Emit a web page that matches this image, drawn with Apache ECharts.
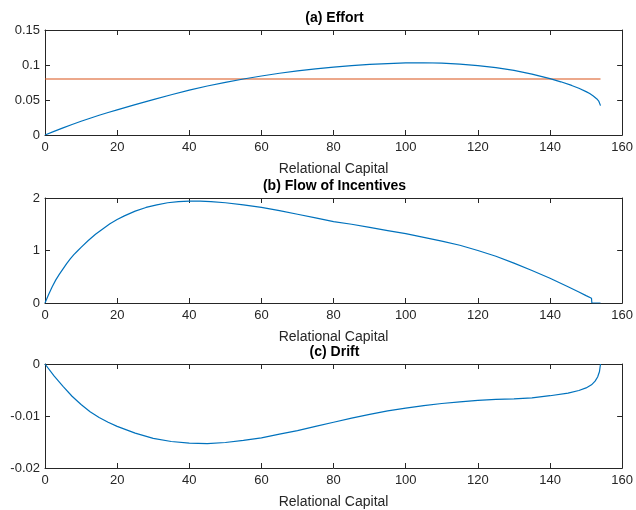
<!DOCTYPE html>
<html>
<head>
<meta charset="utf-8">
<script src="https://cdn.jsdelivr.net/npm/echarts@6/dist/echarts.min.js"></script>
<style>
html,body{margin:0;padding:0;background:#fff;}
#chart{width:636px;height:510px;}
</style>
</head>
<body>
<div id="chart"></div>
<script>
// ---- Data ----
var titles = ['(a) Effort', '(b) Flow of Incentives', '(c) Drift'];
var xName = 'Relational Capital';

var effortX = [0,2.5,5,7.5,10,12.5,15,17.5,20,25,30,35,40,45,50,55,60,65,70,75,80,85,90,95,100,105,110,115,120,125,130,135,140,143,146,148,150,151,152,153,153.5,154];
var effortY = [0,0.0052,0.0102,0.0150,0.0196,0.0240,0.0282,0.0322,0.0360,0.0435,0.0505,0.0575,0.0640,0.0700,0.0752,0.0800,0.0843,0.0882,0.0915,0.0945,0.0970,0.0990,0.1008,0.1020,0.1030,0.1032,0.1027,0.1013,0.0992,0.0962,0.0922,0.0870,0.0805,0.0760,0.0708,0.0668,0.0620,0.0592,0.0558,0.0515,0.0485,0.0420];
var benchX = [0,154];
var benchY = [0.08,0.08];

var flowX = [0,0.5,1,2,3,4,5,6,7,8,9,10,12,14,16,18,20,22,25,28,31,34,37,40,43,46,50,55,60,65,70,75,80,85,90,95,100,105,110,115,120,125,130,135,140,145,148,150,151.5,151.6,154];
var flowY = [0,0.08,0.16,0.31,0.44,0.55,0.65,0.75,0.84,0.92,0.99,1.06,1.19,1.31,1.41,1.51,1.59,1.66,1.75,1.82,1.87,1.91,1.93,1.94,1.94,1.93,1.91,1.87,1.82,1.76,1.69,1.62,1.55,1.50,1.44,1.38,1.32,1.25,1.18,1.10,1.00,0.89,0.76,0.62,0.47,0.31,0.21,0.14,0.09,0,0];

var driftX = [0,2.5,5,7.5,10,12.5,15,17.5,20,25,30,35,40,45,50,55,60,65,70,75,80,85,90,95,100,105,110,115,120,125,130,135,140,145,148,150,151.5,152.5,153.2,153.7,154];
var driftY = [0,-0.0023,-0.0043,-0.0062,-0.0078,-0.0092,-0.0103,-0.0112,-0.0120,-0.0133,-0.0143,-0.0149,-0.0152,-0.0153,-0.0151,-0.0147,-0.0142,-0.0135,-0.0128,-0.0120,-0.0112,-0.0104,-0.0097,-0.0090,-0.0085,-0.0080,-0.0076,-0.0073,-0.0070,-0.0068,-0.0067,-0.0065,-0.0061,-0.0056,-0.0051,-0.0046,-0.0040,-0.0033,-0.0025,-0.0015,0];

var yMin = [0, 0, -0.02];
var yMax = [0.15, 2, 0];
var yInt = [0.05, 1, 0.01];
var xMin = 0, xMax = 160, xInt = 20;

function pairs(xs, ys){ return xs.map(function(x,i){ return [x, ys[i]]; }); }

// ---- Layout ----
var FONT = '"Liberation Sans", Arial, Helvetica, sans-serif';
var AX = '#262626';
var gridTops = [30, 198, 364];
var gridHeights = [105, 105, 106];
var grids = [], xAxes = [], yAxes = [];
for (var i = 0; i < 3; i++) {
  grids.push({left: 45, right: 12, top: gridTops[i], height: gridHeights[i], containLabel: false});
  var common = {type:'value', gridIndex:i, min:xMin, max:xMax, interval:xInt,
    axisLine:{show:true, onZero:false, lineStyle:{color:AX, width:1}},
    axisTick:{show:true, inside:true, length:5, lineStyle:{color:AX}},
    splitLine:{show:false}};
  xAxes.push(Object.assign({}, common, {position:'bottom',
    name: xName, nameLocation:'middle', nameGap: 27,
    nameTextStyle:{fontFamily:FONT, fontSize:14, color:AX},
    axisLabel:{show:true, margin:6, fontFamily:FONT, fontSize:13, color:AX}}));
  xAxes.push(Object.assign({}, common, {position:'top', axisLabel:{show:false}}));
  var ycommon = {type:'value', gridIndex:i, min:yMin[i], max:yMax[i], interval:yInt[i],
    axisLine:{show:true, onZero:false, lineStyle:{color:AX, width:1}},
    axisTick:{show:true, inside:true, length:5, lineStyle:{color:AX}},
    splitLine:{show:false}};
  yAxes.push(Object.assign({}, ycommon, {position:'left',
    axisLabel:{show:true, margin:5, fontFamily:FONT, fontSize:13, color:AX}}));
  yAxes.push(Object.assign({}, ycommon, {position:'right', axisLabel:{show:false}}));
}

function lineSeries(data, xi, color){
  return {type:'line', xAxisIndex:xi, yAxisIndex:xi, data:data, showSymbol:false,
    symbol:'none', smooth:false, animation:false, lineStyle:{color:color, width:1.2}, z:3};
}

var blue = '#0072BD', orange = '#D95319';
var titleEls = titles.map(function(t, i){
  return {type:'text', x: 334.5, y: gridTops[i] - 19,
    style:{text:t, font:'bold 14px ' + FONT, fill:'#000', textAlign:'center', textVerticalAlign:'top'}};
});
var option = {
  animation:false,
  grid: grids,
  xAxis: xAxes,
  yAxis: yAxes,
  graphic: titleEls,
  series: [
    lineSeries(pairs(benchX, benchY), 0, orange),
    lineSeries(pairs(effortX, effortY), 0, blue),
    lineSeries(pairs(flowX, flowY), 2, blue),
    lineSeries(pairs(driftX, driftY), 4, blue)
  ]
};
var chart = echarts.init(document.getElementById('chart'), null, {renderer:'canvas'});
chart.setOption(option);
</script>
</body>
</html>
